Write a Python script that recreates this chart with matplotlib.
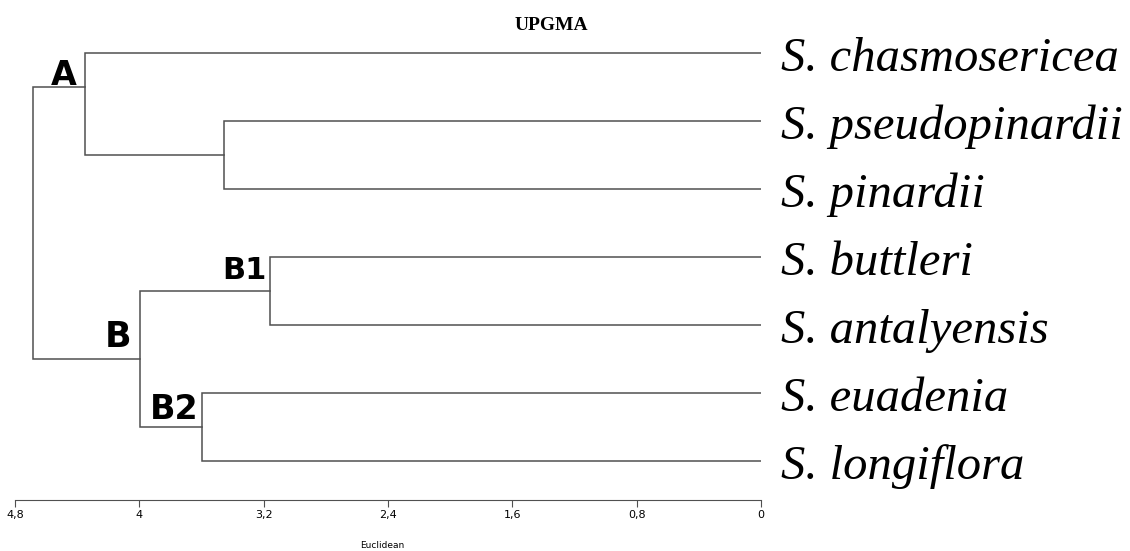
import matplotlib
matplotlib.use("Agg")
import matplotlib.pyplot as plt
from matplotlib.ticker import FuncFormatter

# ---- data ----
species = ["S. chasmosericea", "S. pseudopinardii", "S. pinardii", "S. buttleri",
           "S. antalyensis", "S. euadenia", "S. longiflora"]
# merges: (left child, right child, height); leaves 0..6, new nodes from 7
merge_left = [1, 3, 5, 0, 8, 10]
merge_right = [2, 4, 6, 7, 9, 11]
merge_height = [3.458, 3.162, 3.597, 4.352, 3.994, 4.682]
clade_labels = {10: "A", 11: "B", 8: "B1", 9: "B2"}
xticks = [4.8, 4.0, 3.2, 2.4, 1.6, 0.8, 0.0]

# label layout (pixel offsets from node top corner, font size)
clade_style = {10: (-8, -6, 24), 11: (-9, -29, 25), 8: (-3, 1, 22), 9: (-3, 0, 24)}

W, H = 1130, 551
fig = plt.figure(figsize=(W / 100, H / 100), dpi=100)
x_left_px, x_right_px = 15, 761
y0_px, dy_px = 53, 68
ax = fig.add_axes([x_left_px / W, 0, (x_right_px - x_left_px) / W, 1])
ax.set_xlim(4.8, 0)
ax.set_ylim((H - y0_px) / dy_px, -y0_px / dy_px)

lc = "#505050"
ypos = {i: float(i) for i in range(len(species))}
xpos = {i: 0.0 for i in range(len(species))}
nleaf = {i: 1 for i in range(len(species))}
for k, (l, r, h) in enumerate(zip(merge_left, merge_right, merge_height)):
    node = len(species) + k
    ax.plot([xpos[l], h, h, xpos[r]], [ypos[l], ypos[l], ypos[r], ypos[r]],
            color=lc, lw=1.1, solid_joinstyle="miter")
    nl, nr = nleaf[l], nleaf[r]
    ypos[node] = (nr * ypos[l] + nl * ypos[r]) / (nl + nr)
    xpos[node] = h
    nleaf[node] = nl + nr
    if node in clade_labels:
        ox, oy, fs = clade_style[node]
        ax.annotate(clade_labels[node], xy=(h, min(ypos[l], ypos[r])),
                    xytext=(ox * 0.72, oy * 0.72), textcoords="offset points",
                    ha="right", va="top", fontsize=fs, fontweight="bold",
                    family="DejaVu Sans", color="black")

for i, name in enumerate(species):
    ax.annotate(name, xy=(0, i), xytext=(20 * 0.72, -18 * 0.72),
                textcoords="offset points", ha="left", va="baseline",
                fontsize=35, family="Liberation Serif", style="italic",
                color="black")

# axis
for s in ["top", "left", "right"]:
    ax.spines[s].set_visible(False)
ax.spines["bottom"].set_position(("data", (500 - y0_px) / dy_px))
ax.spines["bottom"].set_color(lc)
ax.spines["bottom"].set_bounds(4.8, 0)
ax.set_yticks([])
ax.set_xticks(xticks)
ax.xaxis.set_major_formatter(FuncFormatter(lambda v, p: ("%g" % v).replace(".", ",")))
ax.tick_params(axis="x", direction="out", length=5, width=0.8, color=lc, pad=2,
               labelsize=8)
for t in ax.get_xticklabels():
    t.set_family(["Liberation Sans Narrow", "DejaVu Sans"])
ax.patch.set_alpha(0)

fig.text(551 / W, 1 - 25 / H, "UPGMA", ha="center", va="center", fontsize=14,
         fontweight="bold", family="Liberation Serif")
fig.text(382 / W, 1 - 546 / H, "Euclidean", ha="center", va="center", fontsize=6.5,
         family=["Liberation Sans Narrow", "DejaVu Sans"])

fig.savefig("out.png", dpi=100)
